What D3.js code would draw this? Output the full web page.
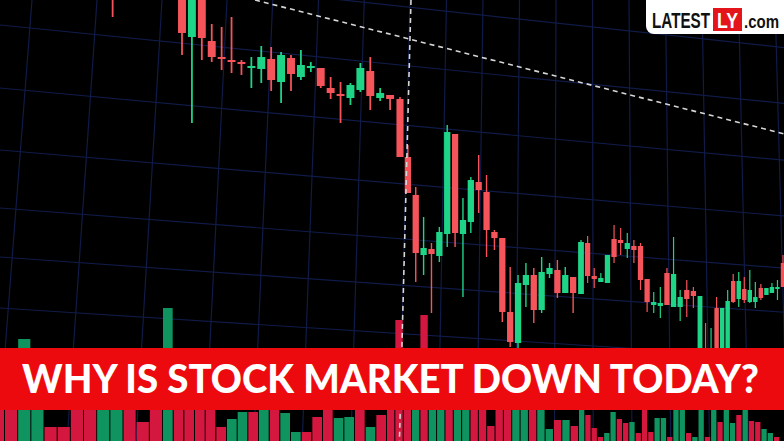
<!DOCTYPE html>
<html><head><meta charset="utf-8">
<script src="https://cdn.jsdelivr.net/npm/d3@7"></script>
<style>html,body{margin:0;padding:0;background:#000;overflow:hidden}</style>
</head><body>
<svg id="c" width="784" height="441"></svg>
<script>
// ---- candle data (price units) ----
const dayStart = [-7];
const colorUp = ["r","r","g","r","r","r","r","r","g","g","r","g","r","g","g","r","r","r","g","g","r","g","r","r","r","r","g","r","g","g","r","g","g","r","r","r","r","r","g","g","r","g","g","r","g","r","g","r","r","g","g","r","r","g","r","r","r","g","g","r","g","g","r","r","g","r","g","r","g","g","r","g","r","g","g","r","g","g","g"];
const open  = [46.0,43.0,36.3,42.5,35.9,34.3,34.0,33.8,33.2,33.1,34.1,31.8,34.2,32.3,33.2,33.2,31.2,30.6,30.2,31.0,32.9,30.2,30.5,30.1,24.3,20.5,14.5,15.1,14.4,16.6,26.6,16.6,17.8,21.8,20.8,16.8,16.2,8.8,5.7,11.5,12.5,9.0,12.6,13.0,10.7,12.3,10.6,15.7,12.4,12.2,11.7,14.3,16.0,15.7,15.0,15.4,12.1,9.8,9.4,9.5,12.6,9.3,10.1,10.9,10.4,3.5,4.8,3.0,9.2,3.5,9.8,11.9,10.0,11.0,9.8,10.2,11.2,10.7,11.1,11.3];
const high  = [46.0,44.0,44.0,43.0,37.6,37.3,38.3,34.0,34.3,35.4,35.3,34.8,34.5,35.0,33.8,33.2,32.3,31.8,31.7,33.7,34.3,31.2,30.5,30.3,25.5,21.3,18.3,15.7,17.3,27.5,26.6,20.2,22.3,24.5,22.5,17.0,16.2,13.3,12.5,13.7,13.2,14.3,13.7,14.0,13.3,12.3,16.0,16.4,13.2,12.7,14.5,17.5,17.2,16.7,16.0,15.7,12.1,10.8,11.3,13.2,16.3,11.0,12.0,11.3,10.4,7.7,7.2,10.3,9.2,11.0,12.6,12.8,12.3,13.0,11.8,11.6,11.2,11.7,12.0,14.5];
const low   = [38.3,34.5,27.7,34.0,33.8,33.0,32.7,32.5,31.2,31.7,30.9,29.7,30.9,32.0,32.8,31.2,30.1,27.7,29.5,30.8,29.0,29.9,29.0,24.3,20.7,11.8,12.5,8.7,13.8,15.3,15.3,10.3,16.7,18.7,14.3,15.0,7.8,5.3,5.0,9.3,7.7,8.7,12.2,10.2,10.7,8.7,10.6,11.7,11.2,11.8,11.7,13.7,14.5,14.2,13.7,11.0,8.8,8.7,8.2,9.5,9.3,7.9,8.3,9.2,3.5,3.2,2.8,2.8,2.5,3.2,9.7,9.3,9.7,9.7,9.2,10.0,10.5,10.7,10.0,11.3];
const close = [42.0,36.7,43.0,36.2,34.3,34.1,33.8,33.6,33.4,34.3,32.0,34.5,32.6,33.5,33.4,31.4,30.7,30.4,31.5,33.2,30.4,30.7,30.1,24.3,20.7,14.7,15.2,14.6,16.8,26.8,16.7,18.0,22.0,21.0,17.0,16.2,8.8,5.8,11.7,12.5,9.0,12.8,13.2,10.7,12.5,10.7,15.8,12.4,12.1,11.8,14.5,16.1,15.7,15.1,15.4,12.0,9.8,9.5,9.7,12.7,9.3,10.3,11.0,10.4,4.0,4.8,3.0,9.2,3.0,9.9,11.9,10.1,11.1,9.8,10.3,11.2,10.5,11.3,11.3,13.7];
const day = dayStart.concat(d3.range(0, 79));

// ---- volume data ----
const volColor = ["r","r","g","g","r","r","r","r","g","g","r","r","r","g","r","r","r","r","r","g","g","r","g","r","g","g","r","r","r","g","g","r","g","r","r","r","r","g","r","g","g","r","g","g","r","r","r","r","r","g","g","r","g","g","r","g","r","g","r","r","r","g","g","r","r","g","r","r","r","g","g","r","g","g","r","g","g","r","g","r","g","g","r","g","r","r","g","g","r"];
const volume   = [55,55,102,55,14,14,55,55,55,55,55,19,55,133,55,55,55,55,14,22,29,29,55,55,28,9,9,24,55,23,24,55,14,26,55,121,55,55,126,55,55,55,55,55,55,55,15,55,55,55,55,55,55,12,21,21,15,55,26,13,4,8,29,22,18,19,8,55,9,23,23,4,55,55,8,4,55,4,55,19,55,18,26,55,20,19,12,8,4];

// ---- overlay lines ----
const trendDay = [7.37, 79];
const trendPrice = [40.0, 26.5];
const crosshairTick = 7;
const gridRowsAtLeft = [-37, 25, 88, 150, 208, 257, 308, 358];
const gridCols = d3.range(0, 18);
const banner = "WHY IS STOCK MARKET DOWN TODAY?";

// ---- scales ----
const W = 784, H = 441;
const x = d3.scaleLinear().domain([0, 22, 45, 63, 78]).range([182, 400, 581, 700, 783]);
const y = d3.scaleLinear().domain([0, 40]).range([400, 0]);
const xv = d3.scaleLinear().domain([0, 1, 13, 34, 57, 88]).range([-7, 5, 163, 387, 579, 774]);
const yv = d3.scaleLinear().domain([0, 100]).range([441, 341]);
const xg = d3.scaleLinear().domain([0, 3, 7, 17]).range([32, 227, 410, 775]);
// perspective helpers
const VPH = [7860, 811];       // horizontal vanishing point
const VPV = [581, -7132];      // vertical vanishing point
const rowY = (y0, px) => y0 + (VPH[1] - y0) * px / VPH[0];
const colX = (xt, py) => xt + (xt - VPV[0]) / (-VPV[1]) * py;

const svg = d3.select("#c");
svg.append("rect").attr("width", W).attr("height", H).attr("fill", "#000");

// grid
const g = svg.append("g").attr("stroke", "#14225a").attr("stroke-width", 1.2).attr("opacity", 0.8);
g.selectAll(".h").data(gridRowsAtLeft).join("line")
  .attr("x1", 0).attr("y1", d => rowY(d, 0)).attr("x2", W).attr("y2", d => rowY(d, W));
g.selectAll(".v").data(gridCols).join("line")
  .attr("x1", d => xg(d)).attr("y1", 0).attr("x2", d => colX(xg(d), H)).attr("y2", H);

// volume bars
const vols = volume.map((v, i) => ({i, v, c: volColor[i]}));
svg.append("g").selectAll("rect").data(vols).join("rect")
  .attr("x", d => xv(d.i))
  .attr("width", d => Math.max(1, xv(d.i + 1) - xv(d.i) - 1))
  .attr("y", d => yv(d.v))
  .attr("height", d => yv(0) - yv(d.v))
  .attr("fill", d => d.c === "g" ? "#0f9460" : "#d3173f");

// candles
const cds = day.map((dd, i) => ({d: dd, o: open[i], h: high[i], l: low[i], c: close[i], up: colorUp[i] === "g"}));
const step = d => x(d.d + 0.5) - x(d.d - 0.5);
const cg = svg.append("g");
cg.selectAll("line").data(cds).join("line")
  .attr("x1", d => x(d.d)).attr("x2", d => x(d.d))
  .attr("y1", d => y(d.h)).attr("y2", d => y(d.l))
  .attr("stroke", d => d.up ? "#1ed487" : "#f4545a")
  .attr("stroke-width", d => Math.max(1.2, step(d) * 0.18));
cg.selectAll("rect").data(cds).join("rect")
  .attr("x", d => x(d.d) - step(d) * 0.4)
  .attr("width", d => step(d) * 0.8)
  .attr("y", d => y(Math.max(d.o, d.c)))
  .attr("height", d => Math.max(1.8, Math.abs(y(d.o) - y(d.c))))
  .attr("fill", d => d.up ? "#1ed487" : "#f4545a");

// dashed lines
const dash = svg.append("g").attr("stroke", "#d6d6d6").attr("stroke-width", 1.6).attr("stroke-dasharray", "5,4").attr("fill", "none");
dash.append("line")
  .attr("x1", x(trendDay[0])).attr("y1", y(trendPrice[0]))
  .attr("x2", x(trendDay[1])).attr("y2", y(trendPrice[1]));
dash.append("line")
  .attr("x1", xg(crosshairTick) + 1).attr("y1", 0)
  .attr("x2", colX(xg(crosshairTick), H)).attr("y2", H);

// banner
svg.append("rect").attr("x", 0).attr("y", 348).attr("width", W).attr("height", 62).attr("fill", "#ec0a0e");
svg.append("text").text(banner)
  .attr("x", 22).attr("y", 393)
  .attr("font-family", "Lato, 'Open Sans', sans-serif").attr("font-weight", 900)
  .attr("font-size", 39).attr("fill", "#fff")
  .attr("textLength", 737).attr("lengthAdjust", "spacingAndGlyphs");

// logo
const lg = svg.append("g");
lg.append("rect").attr("x", 646).attr("y", -12).attr("width", 150).attr("height", 46).attr("rx", 8).attr("fill", "#fff");
lg.append("text").text("LATEST").attr("x", 652).attr("y", 28)
  .attr("font-family", "'Liberation Sans', Arial, sans-serif").attr("font-weight", 700)
  .attr("font-size", 22).attr("fill", "#111").attr("textLength", 58).attr("lengthAdjust", "spacingAndGlyphs");
lg.append("rect").attr("x", 713).attr("y", 8).attr("width", 29).attr("height", 23).attr("fill", "#e4141b");
lg.append("text").text("LY").attr("x", 717).attr("y", 28)
  .attr("font-family", "'Liberation Sans', Arial, sans-serif").attr("font-weight", 700)
  .attr("font-size", 22).attr("fill", "#fff").attr("textLength", 21).attr("lengthAdjust", "spacingAndGlyphs");
lg.append("text").text(".com").attr("x", 744).attr("y", 28)
  .attr("font-family", "'Liberation Sans', Arial, sans-serif").attr("font-weight", 700)
  .attr("font-size", 19).attr("fill", "#111").attr("textLength", 35).attr("lengthAdjust", "spacingAndGlyphs");
</script>
</body></html>
